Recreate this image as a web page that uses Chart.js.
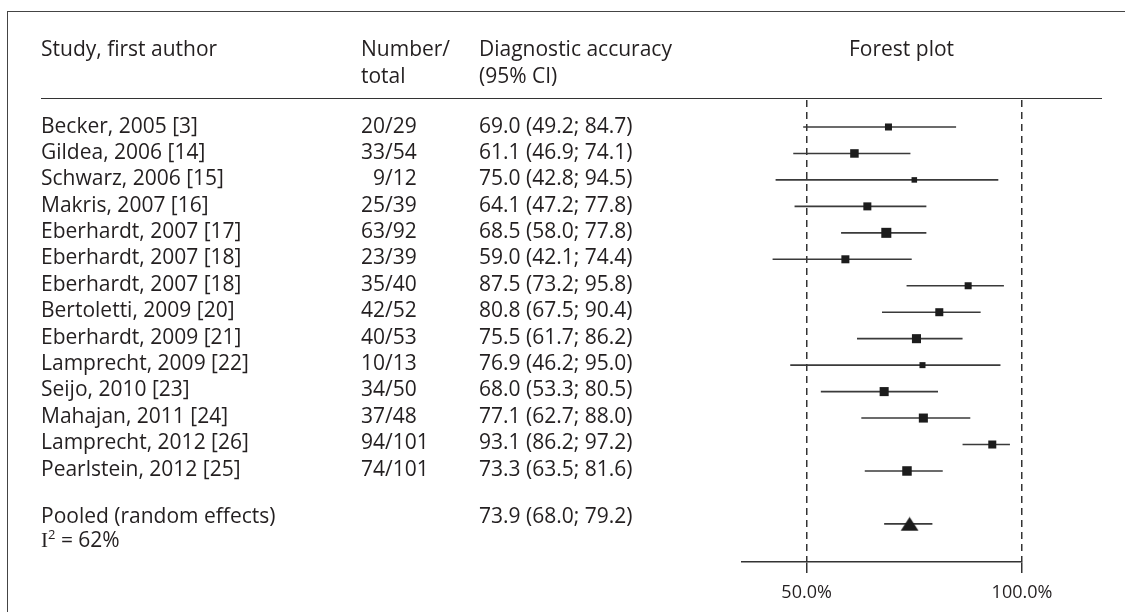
<!DOCTYPE html>
<html>
<head>
<meta charset="utf-8">
<script src="https://cdn.jsdelivr.net/npm/chart.js@4.4.1/dist/chart.umd.min.js"></script>
<style>
  html, body { margin: 0; padding: 0; background: #fff; }
  body { width: 1125px; height: 612px; overflow: hidden; position: relative;
         font-family: 'Open Sans', sans-serif; font-size: 21px; color: #231f20; }
  #wrap { position: absolute; left: 0; top: 0; width: 1125px; height: 612px; }
  .frame { position: absolute; left: 7px; top: 11px; right: -5px; bottom: -5px;
           border-top: 1.5px solid #444; border-left: 1.5px solid #444; }
  .rule { position: absolute; left: 41px; top: 98px; width: 1061px; height: 0;
          border-top: 1.5px solid #333; }
  .col { position: absolute; white-space: nowrap; }
  .col div { height: 26.4px; line-height: 26.4px; }
  .head div { height: 27px; line-height: 27px; }
  .pool div { height: 24px; line-height: 24px; }
  .serif { font-family: 'Liberation Serif', serif; }
  sup { font-size: 13px; vertical-align: 8px; line-height: 0; }
</style>
</head>
<body>
<div id="wrap"><canvas id="forest"></canvas></div>
<div class="frame"></div>
<div class="rule"></div>
<div id="text"></div>
<script>
const studies = ['Becker, 2005 [3]', 'Gildea, 2006 [14]', 'Schwarz, 2006 [15]', 'Makris, 2007 [16]',
  'Eberhardt, 2007 [17]', 'Eberhardt, 2007 [18]', 'Eberhardt, 2007 [18]', 'Bertoletti, 2009 [20]',
  'Eberhardt, 2009 [21]', 'Lamprecht, 2009 [22]', 'Seijo, 2010 [23]', 'Mahajan, 2011 [24]',
  'Lamprecht, 2012 [26]', 'Pearlstein, 2012 [25]']
const positives = [20, 33, 9, 25, 63, 23, 35, 42, 40, 10, 34, 37, 94, 74]
const totals = [29, 54, 12, 39, 92, 39, 40, 52, 53, 13, 50, 48, 101, 101]
const estimates = [69.0, 61.1, 75.0, 64.1, 68.5, 59.0, 87.5, 80.8, 75.5, 76.9, 68.0, 77.1, 93.1, 73.3]
const lower = [49.2, 46.9, 42.8, 47.2, 58.0, 42.1, 73.2, 67.5, 61.7, 46.2, 53.3, 62.7, 86.2, 63.5]
const upper = [84.7, 74.1, 94.5, 77.8, 77.8, 74.4, 95.8, 90.4, 86.2, 95.0, 80.5, 88.0, 97.2, 81.6]
// study weights (%)
const weights = [5.3, 7.8, 3.3, 6.9, 10.8, 6.9, 5.3, 6.9, 8.8, 3.9, 8.8, 8.8, 6.9, 9.7]
const pooledLabel = 'Pooled (random effects)'
const pooledEstimate = 73.9
const pooledLower = 68.0
const pooledUpper = 79.2
const iSquared = 62
const tickValues = [50, 100]

const fmt = v => v.toFixed(1)
const pooledRow = studies.length + 1

// ---- table text ----
const text = document.getElementById('text')
function column(cls, left, top, lines) {
  const el = document.createElement('div')
  el.className = 'col ' + cls
  el.style.left = left + 'px'
  el.style.top = top + 'px'
  el.innerHTML = lines.map(l => '<div>' + l + '</div>').join('')
  text.appendChild(el)
}
column('head', 41, 34.5, ['Study, first author'])
column('head', 361, 34.5, ['Number/', 'total'])
column('head', 479, 34.5, ['Diagnostic accuracy', '(95% CI)'])
column('head', 849, 34.5, ['Forest plot'])
column('', 41, 111.5, studies)
column('', 361, 111.5, positives.map((p, i) =>
  (p < 10 ? '<span style="padding-left:0.57em"></span>' : '') + p + '/' + totals[i]))
column('', 479, 111.5, estimates.map((e, i) => fmt(e) + ' (' + fmt(lower[i]) + '; ' + fmt(upper[i]) + ')'))
column('pool', 41, 503, [pooledLabel, '<span class="serif">I</span><sup>2</sup> = ' + iSquared + '%'])
column('pool', 479, 503, [fmt(pooledEstimate) + ' (' + fmt(pooledLower) + '; ' + fmt(pooledUpper) + ')'])

// ---- triangle marker for the pooled estimate ----
const tri = document.createElement('canvas')
tri.width = 19
tri.height = 15
const tctx = tri.getContext('2d')
tctx.fillStyle = '#1c1c1c'
tctx.beginPath()
tctx.moveTo(9.5, 0.5)
tctx.lineTo(18.5, 14.5)
tctx.lineTo(0.5, 14.5)
tctx.closePath()
tctx.fill()

const ciLines = studies.map((s, i) => ({
  type: 'line',
  data: [{x: lower[i], y: i}, {x: upper[i], y: i}],
  borderColor: '#3a3a3a',
  borderWidth: 1.6,
  pointRadius: 0,
  order: 2,
}))
ciLines.push({
  type: 'line',
  data: [{x: pooledLower, y: pooledRow}, {x: pooledUpper, y: pooledRow}],
  borderColor: '#3a3a3a',
  borderWidth: 1.6,
  pointRadius: 0,
  order: 2,
})

const ctxForest = document.getElementById('forest')
if(ctxForest) {
  const forest = {
    type: 'scatter',
    data: {
      datasets: [
        {
          label: 'Studies',
          data: estimates.map((v, i) => ({x: v, y: i})),
          pointStyle: 'rect',
          pointRadius: weights.map(w => Math.sqrt(w) * 3.05 / Math.SQRT2),
          pointBackgroundColor: '#1c1c1c',
          pointBorderWidth: 0,
          order: 0,
        },
        {
          label: 'Pooled',
          data: [{x: pooledEstimate, y: pooledRow}],
          pointStyle: tri,
          pointRadius: 10,
          order: 0,
        },
        ...ciLines,
      ],
    },
    options: {
      responsive: true,
      maintainAspectRatio: false,
      animation: false,
      events: [],
      layout: {
        padding: {left: 742, right: 103, top: 100, bottom: 0},
      },
      plugins: {
        legend: {display: false},
        tooltip: {enabled: false},
      },
      scales: {
        x: {
          type: 'linear',
          min: 35,
          max: 100,
          afterBuildTicks: s => { s.ticks = tickValues.map(v => ({value: v})) },
          afterFit: s => { s.height = 50 },
          grid: {color: '#333', lineWidth: 1.5, tickLength: 11, tickColor: '#333', tickWidth: 1.5},
          border: {display: true, color: '#333', width: 1.5, dash: [7, 5]},
          ticks: {
            color: '#231f20',
            font: {family: 'Open Sans', size: 18},
            padding: 9,
            maxRotation: 0,
            autoSkip: false,
            callback: v => fmt(v) + '%',
          },
        },
        y: {
          type: 'linear',
          reverse: true,
          min: -1.02,
          max: 16.44,
          display: false,
        },
      },
    },
  }

  window.myForest = new Chart(ctxForest, forest)
}
</script>
</body>
</html>
